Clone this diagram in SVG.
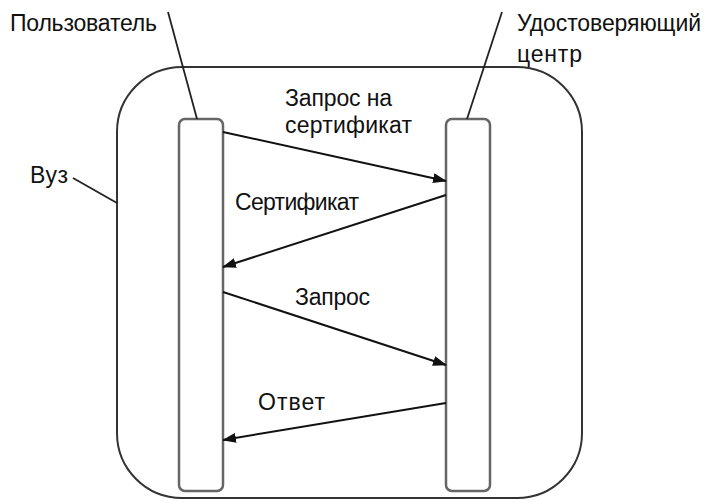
<svg xmlns="http://www.w3.org/2000/svg" width="705" height="502" viewBox="0 0 705 502">
  <style>
    text { font-family: "Liberation Sans", Arial, sans-serif; font-size: 23px; fill: #111; }
    .frame { fill: none; stroke: #333; stroke-width: 2; }
    .life { fill: #fff; stroke: #666; stroke-width: 2.5; }
    .lead { fill: none; stroke: #222; stroke-width: 1.8; }
    .msg { fill: none; stroke: #111; stroke-width: 2; marker-end: url(#head); }
  </style>
  <defs>
    <marker id="head" viewBox="0 0 14 10" refX="13" refY="5" markerWidth="14" markerHeight="10" markerUnits="userSpaceOnUse" orient="auto">
      <path d="M0,0 L14,5 L0,10 z" fill="#111"/>
    </marker>
  </defs>
  <rect width="705" height="502" fill="#fff"/>

  <!-- university boundary -->
  <g id="university">
    <rect class="frame" x="117" y="67" width="465" height="431" rx="65" ry="65"/>
    <path class="lead" d="M73,178 L117,203"/>
    <text x="30" y="183" textLength="38">Вуз</text>
  </g>

  <!-- user lifeline -->
  <g id="user">
    <rect class="life" x="179" y="119" width="44" height="372" rx="6" ry="6"/>
    <path class="lead" d="M168,12 L197,119"/>
    <text x="10" y="31" textLength="147">Пользователь</text>
  </g>

  <!-- certification authority lifeline -->
  <g id="ca">
    <rect class="life" x="446" y="119" width="44" height="372" rx="6" ry="6"/>
    <path class="lead" d="M502,12 L467,119"/>
    <text x="517" y="31" textLength="184">Удостоверяющий</text>
    <text x="517" y="62" textLength="65">центр</text>
  </g>

  <!-- messages -->
  <g id="messages">
    <path class="msg" d="M223,132 L446,181"/>
    <path class="msg" d="M446,195 L223,267"/>
    <path class="msg" d="M223,292 L446,365"/>
    <path class="msg" d="M446,403 L223,440"/>
    <text x="285" y="106" textLength="107">Запрос на</text>
    <text x="285" y="133" textLength="127">сертификат</text>
    <text x="235" y="210" textLength="124">Сертификат</text>
    <text x="295" y="305" textLength="75">Запрос</text>
    <text x="258" y="410" textLength="67">Ответ</text>
  </g>
</svg>
